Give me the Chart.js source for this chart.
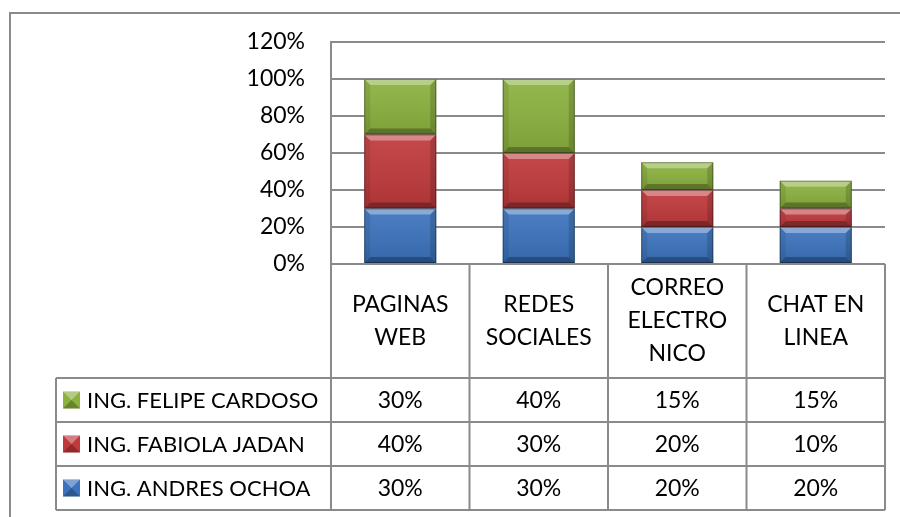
<!DOCTYPE html>
<html>
<head>
<meta charset="utf-8">
<script src="https://cdn.jsdelivr.net/npm/chart.js@4.4.0/dist/chart.umd.min.js"></script>
<style>
  html, body { margin: 0; padding: 0; background: #fff; }
  #wrap { width: 900px; height: 517px; }
</style>
</head>
<body>
<div id="wrap"><canvas id="chart" width="900" height="517"></canvas></div>
<script>
// --- data ---
const categories = [['PAGINAS', 'WEB'], ['REDES', 'SOCIALES'], ['CORREO', 'ELECTRO', 'NICO'], ['CHAT EN', 'LINEA']];
const seriesNames = ['ING. ANDRES OCHOA', 'ING. FABIOLA JADAN', 'ING. FELIPE CARDOSO'];
const andresOchoa = [0.30, 0.30, 0.20, 0.20];
const fabiolaJadan = [0.40, 0.30, 0.20, 0.10];
const felipeCardoso = [0.30, 0.40, 0.15, 0.15];
const yMax = 1.2;
const yStep = 0.2;

const seriesColors = ['#3b73bd', '#c0393b', '#8bb13e'];
const FONT = 'Lato, "Open Sans", sans-serif';
const GRID = '#8a8a8a';

const pct = v => Math.round(v * 100) + '%';

// outer frame of the chart object
const framePlugin = {
    id: 'frame',
    beforeDraw(chart) {
        const ctx = chart.ctx;
        ctx.save();
        ctx.fillStyle = '#fff';
        ctx.fillRect(0, 0, chart.width, chart.height);
        ctx.strokeStyle = GRID;
        ctx.lineWidth = 2;
        ctx.strokeRect(10, 13, chart.width + 20, chart.height + 20);
        ctx.restore();
    }
};

// excel-like bevel on every bar segment
const bevelPlugin = {
    id: 'bevel',
    afterDatasetsDraw(chart) {
        const ctx = chart.ctx;
        ctx.save();
        chart.data.datasets.forEach((ds, di) => {
            chart.getDatasetMeta(di).data.forEach(bar => {
                const p = bar.getProps(['x', 'y', 'base', 'width'], true);
                const l = p.x - p.width / 2, r = p.x + p.width / 2;
                const t = Math.min(p.y, p.base), b = Math.max(p.y, p.base);
                const bv = Math.min(6, (b - t) / 2);
                const quad = (pts, fill) => {
                    ctx.beginPath();
                    ctx.moveTo(pts[0][0], pts[0][1]);
                    pts.slice(1).forEach(q => ctx.lineTo(q[0], q[1]));
                    ctx.closePath();
                    ctx.fillStyle = fill;
                    ctx.fill();
                };
                // face shading
                const g = ctx.createLinearGradient(0, t, 0, b);
                g.addColorStop(0, 'rgba(255,255,255,0.08)');
                g.addColorStop(1, 'rgba(0,0,0,0.10)');
                ctx.fillStyle = g;
                ctx.fillRect(l, t, r - l, b - t);
                quad([[l, t], [r, t], [r - bv, t + bv], [l + bv, t + bv]], 'rgba(255,255,255,0.35)');
                quad([[l, b], [r, b], [r - bv, b - bv], [l + bv, b - bv]], 'rgba(0,0,0,0.28)');
                quad([[l, t], [l + bv, t + bv], [l + bv, b - bv], [l, b]], 'rgba(0,0,0,0.08)');
                quad([[r, t], [r - bv, t + bv], [r - bv, b - bv], [r, b]], 'rgba(0,0,0,0.15)');
                ctx.strokeStyle = 'rgba(0,0,0,0.35)';
                ctx.lineWidth = 1;
                ctx.strokeRect(l + 0.5, t + 0.5, r - l - 1, b - t - 1);
            });
        });
        ctx.restore();
    }
};

// data table under the plot
const tablePlugin = {
    id: 'dataTable',
    afterDraw(chart) {
        const ctx = chart.ctx;
        const area = chart.chartArea;
        const xs = chart.scales.x;
        const n = categories.length;
        const colW = (area.right - area.left) / n;
        const headerH = 114, rowH = 44;
        const legendLeft = 56;
        const top = area.bottom;
        const headBottom = top + headerH;
        const bottom = headBottom + rowH * 3;

        ctx.save();
        ctx.strokeStyle = GRID;
        ctx.lineWidth = 2;
        ctx.beginPath();
        ctx.moveTo(area.left, top); ctx.lineTo(area.right, top);
        for (let r = 0; r <= 3; r++) {
            const y = headBottom + r * rowH;
            ctx.moveTo(legendLeft, y); ctx.lineTo(area.right, y);
        }
        for (let i = 0; i <= n; i++) {
            const x = area.left + i * colW;
            ctx.moveTo(x, top); ctx.lineTo(x, bottom);
        }
        ctx.moveTo(legendLeft, headBottom); ctx.lineTo(legendLeft, bottom);
        ctx.stroke();

        ctx.fillStyle = '#000';
        ctx.font = '23px ' + FONT;
        ctx.textAlign = 'center';
        ctx.textBaseline = 'middle';
        categories.forEach((lines, i) => {
            const cx = xs.getPixelForValue(i);
            const lh = 33;
            const y0 = (top + headBottom) / 2 - (lines.length - 1) * lh / 2;
            lines.forEach((s, k) => ctx.fillText(s, cx, y0 + k * lh));
        });

        const rows = chart.data.datasets.slice().reverse();
        rows.forEach((ds, r) => {
            const cy = headBottom + r * rowH + rowH / 2;
            // legend key
            const kx = 63, ks = 17;
            ctx.fillStyle = ds.backgroundColor;
            ctx.fillRect(kx, cy - ks / 2, ks, ks);
            ctx.fillStyle = 'rgba(255,255,255,0.35)';
            ctx.beginPath();
            ctx.moveTo(kx, cy - ks / 2); ctx.lineTo(kx + ks, cy - ks / 2); ctx.lineTo(kx + ks / 2, cy); ctx.closePath();
            ctx.fill();
            ctx.fillStyle = 'rgba(0,0,0,0.25)';
            ctx.beginPath();
            ctx.moveTo(kx, cy + ks / 2); ctx.lineTo(kx + ks, cy + ks / 2); ctx.lineTo(kx + ks / 2, cy); ctx.closePath();
            ctx.fill();

            ctx.fillStyle = '#000';
            ctx.textAlign = 'left';
            ctx.font = '22px ' + FONT;
            ctx.fillText(ds.label, 87, cy + 1);
            ctx.font = '23px ' + FONT;
            ctx.textAlign = 'center';
            ds.data.forEach((v, i) => ctx.fillText(pct(v), xs.getPixelForValue(i), cy + 1));
        });
        ctx.restore();
    }
};

const ctx = document.getElementById('chart').getContext('2d');
new Chart(ctx, {
    type: 'bar',
    data: {
        labels: categories.map(c => c.join(' ')),
        datasets: [
            { label: seriesNames[0], data: andresOchoa, backgroundColor: seriesColors[0] },
            { label: seriesNames[1], data: fabiolaJadan, backgroundColor: seriesColors[1] },
            { label: seriesNames[2], data: felipeCardoso, backgroundColor: seriesColors[2] }
        ]
    },
    options: {
        responsive: false,
        animation: false,
        layout: { padding: { left: 0, top: 42, right: 15, bottom: 253 } },
        datasets: { bar: { categoryPercentage: 1, barPercentage: 0.52, borderWidth: 0 } },
        plugins: { legend: { display: false }, tooltip: { enabled: false } },
        scales: {
            x: { stacked: true, display: false },
            y: {
                stacked: true,
                min: 0,
                max: yMax,
                afterFit: scale => { scale.width = 331; },
                border: { display: true, color: GRID, width: 2 },
                grid: { color: GRID, lineWidth: 2, drawTicks: false },
                ticks: {
                    stepSize: yStep,
                    padding: 26,
                    color: '#000',
                    font: { family: FONT, size: 23 },
                    callback: v => pct(v)
                }
            }
        }
    },
    plugins: [framePlugin, bevelPlugin, tablePlugin]
});
</script>
</body>
</html>
